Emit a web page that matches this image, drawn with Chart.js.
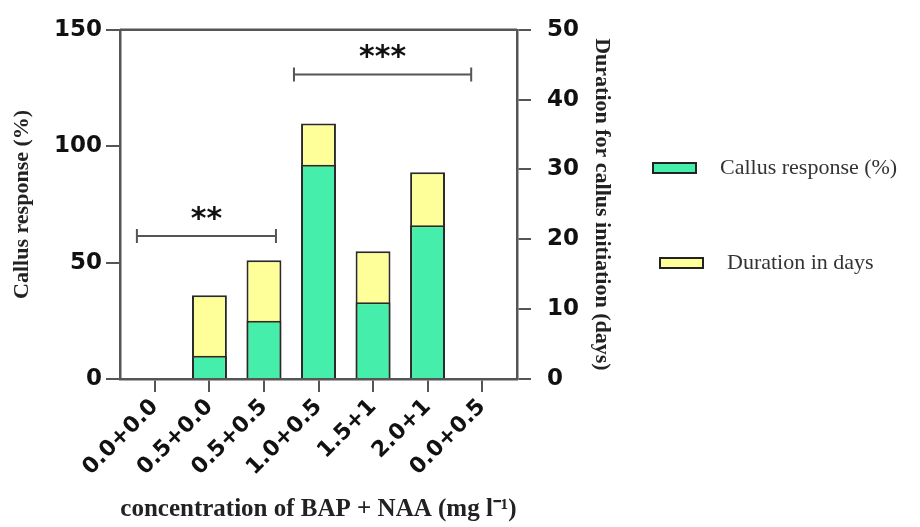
<!DOCTYPE html>
<html>
<head>
<meta charset="utf-8">
<script src="https://cdn.jsdelivr.net/npm/chart.js@4"></script>
<style>
  html, body { margin: 0; padding: 0; background: #fff; }
  #wrap { position: relative; width: 920px; height: 527px; }
</style>
</head>
<body>
<div id="wrap"><canvas id="callusChart"></canvas></div>
<script>
// data
const categories = ['0.0+0.0', '0.5+0.0', '0.5+0.5', '1.0+0.5', '1.5+1', '2.0+1', '0.0+0.5'];
const callusResponse = [0, 10, 25, 92, 33, 66, 0];          // % (left axis)
const durationDays = [0, 12, 17, 36.6, 18.3, 29.6, 0];       // days (right axis)
const leftTicks = [0, 50, 100, 150];
const rightTicks = [0, 10, 20, 30, 40, 50];
// significance brackets: x in category index units, y on left axis
const brackets = [
    { from: -0.33, to: 2.22, y: 61.4, label: '**' },
    { from: 2.55, to: 5.8, y: 130.8, label: '***' }
];

const colorGreen = '#45EFAB';
const colorYellow = '#FFFF99';
const lineGrey = '#555555';
const serif = "'Liberation Serif', 'Times New Roman', serif";
const sans = "'DejaVu Sans', sans-serif";

const ctx = document.getElementById('callusChart').getContext('2d');

new Chart(ctx, {
    type: 'bar',
    data: {
        datasets: [
            {
                label: 'Callus response (%)',
                data: callusResponse.map((v, i) => ({ x: i, y: v })),
                yAxisID: 'y',
                backgroundColor: colorGreen,
                borderColor: '#2a2a2a',
                borderWidth: 2,
                grouped: false,
                barPercentage: 0.8,
                categoryPercentage: 0.8
            },
            {
                label: 'Duration in days',
                data: durationDays.map((v, i) => ({ x: i, y: v })),
                yAxisID: 'y1',
                backgroundColor: colorYellow,
                borderColor: '#2a2a2a',
                borderWidth: 2,
                grouped: false,
                barPercentage: 0.8,
                categoryPercentage: 0.8
            }
        ]
    },
    options: {
        responsive: true,
        maintainAspectRatio: false,
        animation: false,
        layout: { padding: { top: 27, right: 303, left: 0, bottom: 0 } },
        plugins: {
            legend: { display: false },
            tooltip: { enabled: false }
        },
        scales: {
            x: {
                type: 'linear',
                min: -0.64,
                max: 6.64,
                offset: false,
                afterBuildTicks: (scale) => { scale.ticks = categories.map((c, i) => ({ value: i })); },
                afterFit: (scale) => { scale.height = 148; },
                grid: { offset: false, drawOnChartArea: false, tickLength: 13, color: lineGrey, lineWidth: 2 },
                border: { color: lineGrey, width: 2.5 },
                ticks: {
                    autoSkip: false,
                    maxRotation: 45,
                    minRotation: 45,
                    padding: 2,
                    color: '#111',
                    font: { family: sans, size: 22, weight: 'bold' },
                    callback: (v) => categories[Math.round(v)]
                },
                title: {
                    display: true,
                    text: 'concentration of BAP + NAA (mg l\u207B\u00B9)',
                    color: '#222',
                    font: { family: serif, size: 25, weight: 'bold' },
                    padding: { top: 0, bottom: 2 }
                }
            },
            y: {
                position: 'left',
                min: 0,
                max: 150,
                afterBuildTicks: (scale) => { scale.ticks = leftTicks.map(v => ({ value: v })); },
                afterFit: (scale) => { scale.width = 120; },
                grid: { drawOnChartArea: false, tickLength: 14, color: lineGrey, lineWidth: 2 },
                border: { color: lineGrey, width: 2.5 },
                ticks: {
                    padding: 4,
                    color: '#111',
                    font: { family: sans, size: 23, weight: 'bold' }
                },
                title: {
                    display: true,
                    text: 'Callus response (%)',
                    color: '#222',
                    font: { family: serif, size: 22, weight: 'bold' },
                    padding: { top: 9, bottom: 0 }
                }
            },
            y1: {
                position: 'right',
                min: 0,
                max: 50,
                afterBuildTicks: (scale) => { scale.ticks = rightTicks.map(v => ({ value: v })); },
                afterFit: (scale) => { scale.width = 100; },
                grid: { drawOnChartArea: false, tickLength: 14, color: lineGrey, lineWidth: 2 },
                border: { color: lineGrey, width: 2.5 },
                ticks: {
                    padding: 16,
                    color: '#111',
                    font: { family: sans, size: 23, weight: 'bold' }
                },
                title: {
                    display: true,
                    text: 'Duration for callus initiation (days)',
                    color: '#222',
                    font: { family: serif, size: 22, weight: 'bold' },
                    padding: { top: 2, bottom: 0 }
                }
            }
        }
    },
    plugins: [{
        // top frame line, significance brackets and the side legend
        id: 'extras',
        afterDraw(chart) {
            const { ctx, chartArea, scales } = chart;
            ctx.save();

            ctx.strokeStyle = lineGrey;
            ctx.lineWidth = 2.5;
            ctx.beginPath();
            ctx.moveTo(chartArea.left, chartArea.top);
            ctx.lineTo(chartArea.right, chartArea.top);
            ctx.stroke();

            brackets.forEach(b => {
                const x1 = scales.x.getPixelForValue(b.from);
                const x2 = scales.x.getPixelForValue(b.to);
                const y = scales.y.getPixelForValue(b.y);
                ctx.strokeStyle = lineGrey;
                ctx.lineWidth = 2;
                ctx.beginPath();
                ctx.moveTo(x1, y); ctx.lineTo(x2, y);
                ctx.moveTo(x1, y - 7); ctx.lineTo(x1, y + 7);
                ctx.moveTo(x2, y - 7); ctx.lineTo(x2, y + 7);
                ctx.stroke();
                ctx.fillStyle = '#111';
                ctx.font = 'bold 30px ' + sans;
                ctx.textAlign = 'center';
                ctx.textBaseline = 'middle';
                ctx.fillText(b.label, (x1 + x2) / 2, y - 16);
            });

            const items = [
                { box: [653, 163], text: [720, 168] },
                { box: [660, 258], text: [727, 263] }
            ];
            chart.data.datasets.forEach((ds, i) => {
                const it = items[i];
                ctx.fillStyle = ds.backgroundColor;
                ctx.fillRect(it.box[0], it.box[1], 43, 10);
                ctx.strokeStyle = '#222';
                ctx.lineWidth = 2;
                ctx.strokeRect(it.box[0], it.box[1], 43, 10);
                ctx.fillStyle = '#333';
                ctx.font = '22px ' + serif;
                ctx.textAlign = 'left';
                ctx.textBaseline = 'middle';
                ctx.fillText(ds.label, it.text[0], it.text[1]);
            });
            ctx.restore();
        }
    }]
});
</script>
</body>
</html>
